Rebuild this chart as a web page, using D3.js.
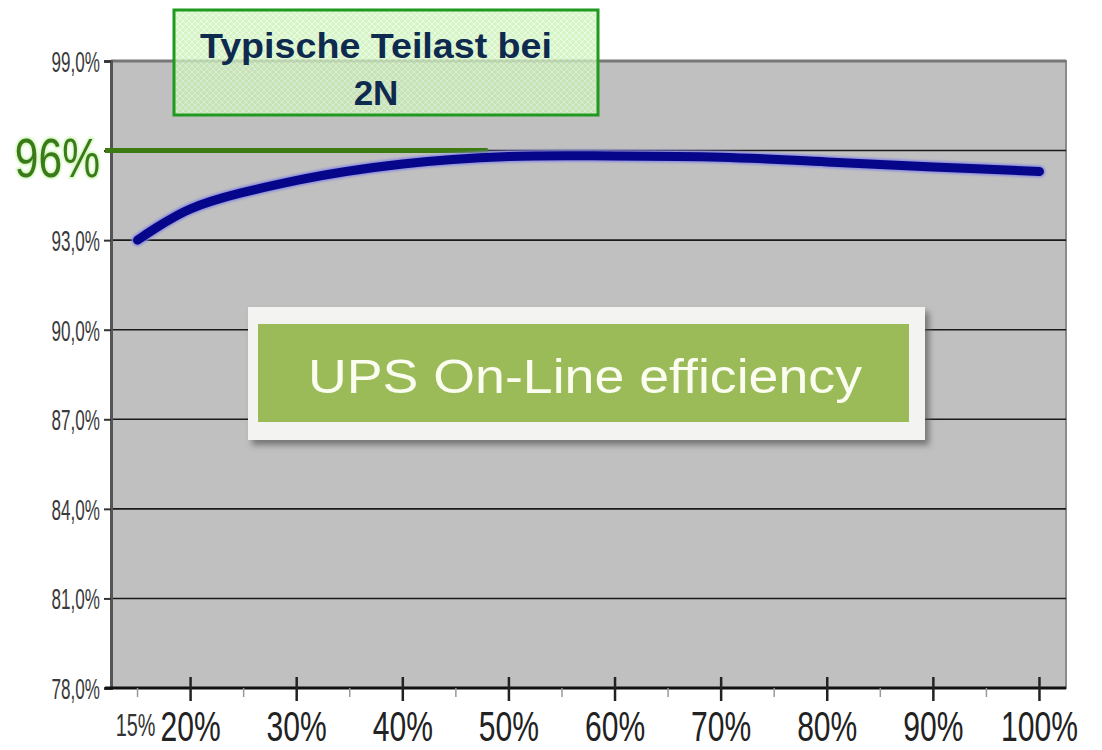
<!DOCTYPE html>
<html>
<head>
<meta charset="utf-8">
<script src="https://cdn.jsdelivr.net/npm/d3@7"></script>
<style>
  body { margin: 0; background: #fff; }
  svg { display: block; }
</style>
</head>
<body>
<svg id="chart" width="1102" height="750"></svg>
<script>
// load (%) vs efficiency (%)
var loads = [15, 20, 30, 40, 50, 60, 70, 80, 90, 100];
var efficiency = [93.0, 94.05, 95.0, 95.55, 95.8, 95.82, 95.78, 95.62, 95.45, 95.3];

var yTicks = [78, 81, 84, 87, 90, 93, 96, 99];
var xMajor = [20, 30, 40, 50, 60, 70, 80, 90, 100];
var xMinor = [15, 25, 35, 45, 55, 65, 75, 85, 95];
var target = 96;               // the "96%" marker line
var targetUntil = 48;          // where the green line stops

var svg = d3.select("#chart"),
    margin = {top: 61, right: 36, bottom: 62, left: 111},
    width = +svg.attr("width") - margin.left - margin.right,
    height = +svg.attr("height") - margin.top - margin.bottom;

var x = d3.scaleLinear().domain([12.5, 102.5]).range([0, width]);
var y = d3.scaleLinear().domain([78, 99]).range([height, 0]);

var FONT = "'Liberation Sans', Arial, sans-serif";

// no narrow font around, so squeeze a normal one
function narrow(sel, px, py, sx) {
    return sel.attr("transform", "translate(" + px + "," + py + ") scale(" + sx + ",1)")
        .attr("x", 0).attr("y", 0);
}

var defs = svg.append("defs");
var pat = defs.append("pattern").attr("id", "dots")
    .attr("width", 6).attr("height", 6).attr("patternUnits", "userSpaceOnUse");
pat.append("rect").attr("width", 6).attr("height", 6).attr("fill", "#c9f0b4");
pat.append("path").attr("d", "M0,0L6,6M6,0L0,6").attr("stroke", "#e6fadc").attr("stroke-width", 1);

var blur = defs.append("filter").attr("id", "soft").attr("x", "-10%").attr("y", "-30%").attr("width", "120%").attr("height", "160%");
blur.append("feGaussianBlur").attr("stdDeviation", 1.2);

var shadow = defs.append("filter").attr("id", "shadow").attr("x", "-5%").attr("y", "-10%").attr("width", "115%").attr("height", "130%");
shadow.append("feDropShadow").attr("dx", 4).attr("dy", 5).attr("stdDeviation", 3).attr("flood-color", "#555").attr("flood-opacity", 0.7);

var g = svg.append("g").attr("transform", "translate(" + margin.left + "," + margin.top + ")");

// plot background
g.append("rect")
    .attr("width", width).attr("height", height)
    .attr("fill", "#c0c0c0")
    .attr("stroke", "#8a8a8a").attr("stroke-width", 2);

// gridlines
g.append("g").selectAll("line")
    .data(yTicks.filter(function(d) { return d > 78; }))
    .enter().append("line")
    .attr("x1", 0).attr("x2", width)
    .attr("y1", function(d) { return y(d); }).attr("y2", function(d) { return y(d); })
    .attr("stroke", function(d) { return d == 99 ? "#777" : "#1a1a1a"; })
    .attr("stroke-width", function(d) { return d == 99 ? 3 : 1.6; });

// y axis
var yAxis = g.append("g")
    .call(d3.axisLeft(y).tickValues(yTicks).tickSize(7).tickFormat(""));
yAxis.select(".domain").attr("stroke", "#555").attr("stroke-width", 3);
yAxis.selectAll(".tick line").attr("stroke", "#333").attr("stroke-width", 2);
g.append("g").selectAll("text")
    .data(yTicks.filter(function(d) { return d != target; }))
    .enter().append("text")
    .each(function(d) { narrow(d3.select(this), -11, y(d) + 11, 0.57); })
    .attr("text-anchor", "end")
    .attr("fill", "#3a3a3a")
    .style("font-family", FONT)
    .style("font-size", "30px")
    .text(function(d) { return d.toFixed(1).replace(".", ",") + "%"; });

// x axis: major and minor ticks
var xAxis = g.append("g").attr("transform", "translate(0," + height + ")");
xAxis.append("line").attr("x1", -6).attr("x2", width)
    .attr("stroke", "#111").attr("stroke-width", 3);
xAxis.selectAll(".major").data(xMajor).enter().append("line")
    .attr("x1", function(d) { return x(d); }).attr("x2", function(d) { return x(d); })
    .attr("y1", -11).attr("y2", 13)
    .attr("stroke", "#222").attr("stroke-width", 2.5);
xAxis.selectAll(".minor").data(xMinor).enter().append("line")
    .attr("x1", function(d) { return x(d); }).attr("x2", function(d) { return x(d); })
    .attr("y1", 0).attr("y2", 9)
    .attr("stroke", "#999").attr("stroke-width", 1.5);
xAxis.selectAll(".lab").data(xMajor).enter().append("text")
    .each(function(d) { narrow(d3.select(this), x(d), 53, 0.7); })
    .attr("text-anchor", "middle")
    .attr("fill", "#222")
    .style("font-family", FONT)
    .style("font-size", "43px")
    .text(function(d) { return d + "%"; });
narrow(xAxis.append("text"), x(15) - 2, 48, 0.64)
    .attr("text-anchor", "middle")
    .attr("fill", "#333")
    .style("font-family", FONT)
    .style("font-size", "31px")
    .text("15%");

// 96% marker
g.append("line")
    .attr("x1", -6).attr("x2", x(targetUntil))
    .attr("y1", y(target)).attr("y2", y(target))
    .attr("stroke", "#3d7a12").attr("stroke-width", 5);
var big = narrow(g.append("text"), -11, y(target) + 26, 0.76)
    .attr("text-anchor", "end")
    .style("font-family", FONT)
    .style("font-size", "56px")
    .text(target + "%");
big.clone(true).lower().attr("fill", "#b6ec9a").attr("filter", "url(#soft)").attr("stroke", "#cdf5b6").attr("stroke-width", 3);
big.attr("fill", "#3b7a18");

// efficiency curve
var line = d3.line()
    .x(function(d, i) { return x(loads[i]); })
    .y(function(d) { return y(d); })
    .curve(d3.curveCatmullRom.alpha(0.5));

g.append("path")
    .datum(efficiency)
    .attr("fill", "none")
    .attr("stroke", "#8a8ae0")
    .attr("stroke-width", 12)
    .attr("stroke-linecap", "round")
    .attr("filter", "url(#soft)")
    .attr("d", line);
g.append("path")
    .datum(efficiency)
    .attr("fill", "none")
    .attr("stroke", "#06068a")
    .attr("stroke-width", 9)
    .attr("stroke-linecap", "round")
    .attr("d", line);

// title box
svg.append("rect")
    .attr("x", 174).attr("y", 10).attr("width", 424).attr("height", 105)
    .attr("fill", "url(#dots)").attr("fill-opacity", 0.75)
    .attr("stroke", "#1f9a1f").attr("stroke-width", 3);
var title = svg.append("text")
    .attr("text-anchor", "middle")
    .attr("fill", "#0e2a4f")
    .style("font-family", FONT)
    .style("font-weight", "bold")
    .style("font-size", "35px");
title.append("tspan").attr("x", 376).attr("y", 58)
    .attr("textLength", 352).attr("lengthAdjust", "spacingAndGlyphs")
    .text("Typische Teilast bei");
title.append("tspan").attr("x", 376).attr("y", 105).text("2N");

// label box
svg.append("rect")
    .attr("x", 248).attr("y", 307).attr("width", 677).attr("height", 133)
    .attr("fill", "#f3f3f1").attr("filter", "url(#shadow)");
svg.append("rect")
    .attr("x", 258).attr("y", 324).attr("width", 651).attr("height", 98)
    .attr("fill", "#9bbb59");
svg.append("text")
    .attr("x", 585).attr("y", 393)
    .attr("text-anchor", "middle")
    .attr("textLength", 554).attr("lengthAdjust", "spacingAndGlyphs")
    .attr("fill", "#fbfdf0")
    .style("font-family", FONT)
    .style("font-size", "48px")
    .text("UPS On-Line efficiency");
</script>
</body>
</html>
